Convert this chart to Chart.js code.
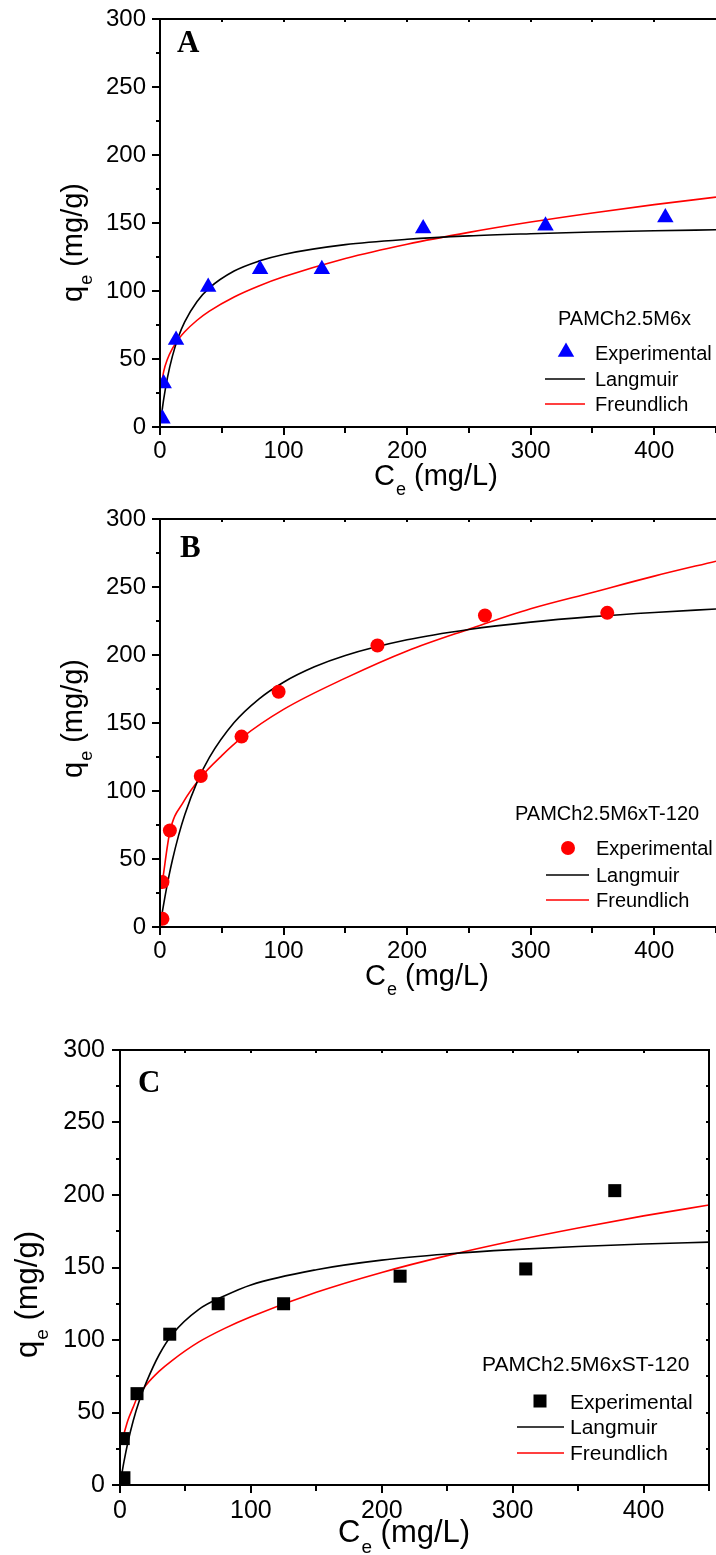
<!DOCTYPE html>
<html>
<head>
<meta charset="utf-8">
<title>Adsorption isotherms</title>
<script src="https://cdn.jsdelivr.net/npm/chart.js@4.4.1/dist/chart.umd.min.js"></script>
<style>
  html, body { margin: 0; padding: 0; background: #fff; }
  body { width: 716px; height: 1555px; position: relative; overflow: hidden; }
  canvas { position: absolute; left: 0; }
</style>
</head>
<body>
<canvas id="chartA"></canvas>
<canvas id="chartB"></canvas>
<canvas id="chartC"></canvas>
<script>
// PAMCh2.5M6x
const expA_x = [2, 3, 13, 39, 81, 131, 213, 312, 409];
const expA_y = [6, 32, 64, 103, 116, 116, 146, 148, 154];
const langA_x = [1.2, 3, 6, 10, 15, 20, 30, 40, 60, 80, 100, 150, 200, 250, 300, 350, 400, 450];
const langA_y = [8.9, 20.5, 36.1, 51.9, 66.5, 77.3, 92.3, 102.3, 114.7, 122.0, 126.9, 134.1, 138.0, 140.5, 142.1, 143.4, 144.3, 145.0];
const freuA_x = [1, 3, 6, 10, 15, 20, 30, 40, 60, 80, 100, 150, 200, 250, 300, 350, 400, 450];
const freuA_y = [30, 40.9, 49.8, 57.6, 64.6, 70.0, 78.5, 85.2, 95.6, 103.7, 110.4, 123.9, 134.4, 143.1, 150.7, 157.4, 163.5, 169.0];

// PAMCh2.5M6xT-120
const expB_x = [2, 2, 8, 33, 66, 96, 176, 263, 362];
const expB_y = [6, 33, 71, 111, 140, 173, 207, 229, 231];
const langB_x = [0.8, 2, 4, 7, 10, 15, 20, 30, 40, 60, 80, 100, 125, 150, 200, 250, 300, 350, 400, 450];
const langB_y = [4.8, 11.6, 22.2, 36.5, 49.1, 67.2, 82.4, 106.5, 124.7, 150.3, 167.6, 180.0, 191.3, 199.7, 211.2, 218.8, 224.2, 228.2, 231.3, 233.8];
const freuB_x = [1.9, 8, 19, 33, 50, 66, 100, 150, 200, 250, 300, 350, 400, 450];
const freuB_y = [33, 70, 92, 110, 126, 139, 160, 183, 203, 219, 234, 246, 258, 269];

// PAMCh2.5M6xST-120
const expC_x = [3, 2.5, 13, 38, 75, 125, 214, 310, 378];
const expC_y = [5, 32, 63, 104, 125, 125, 144, 149, 203];
const langC_x = [1, 3, 6, 10, 15, 20, 30, 40, 60, 80, 100, 150, 200, 250, 300, 350, 400, 450];
const langC_y = [5.6, 15.9, 29.3, 44.0, 58.8, 70.6, 90.0, 104.0, 121.0, 130.5, 138.0, 148.5, 155.1, 159.3, 162.3, 164.5, 166.2, 167.5];
const freuC_x = [3, 6, 10, 13, 20, 30, 40, 60, 80, 100, 150, 200, 250, 300, 350, 400, 450];
const freuC_y = [35.2, 44.5, 53.5, 60.0, 69.0, 78.5, 86.0, 98.5, 108.0, 116.0, 132.9, 146.6, 158.2, 168.3, 177.3, 185.6, 193.1];

const SANS = "'Liberation Sans', Arial, sans-serif";
const SERIF = "'Liberation Serif', 'Times New Roman', serif";

const toPoints = (xs, ys) => xs.map((v, i) => ({ x: v, y: ys[i] }));

const panels = [
  {
    id: 'chartA', top: 0, height: 500, letter: 'A', name: 'PAMCh2.5M6x',
    expX: expA_x, expY: expA_y, langX: langA_x, langY: langA_y, freuX: freuA_x, freuY: freuA_y,
    marker: 'triangle', markerRadius: 9.5, markerColor: '#0000ff',
    padTop: 19, padRight: 0, yAxisWidth: 160, xAxisHeight: 73, frameRight: false,
    tickSize: 24, xTickPad: 10, yTickPad: 14,
    titleSize: 29, subSize: 18, subDrop: 10,
    xTitle: { x: 374, y: 485 }, yTitle: { x: 82, y: 302 },
    letterPos: { x: 177, y: 52, size: 31 },
    legend: { size: 20, nameX: 558, nameY: 325, markX: 566, markY: 352, textX: 595, expY: 360,
              lineX0: 545, lineX1: 585, langY: 379, freuY: 404 }
  },
  {
    id: 'chartB', top: 500, height: 500, letter: 'B', name: 'PAMCh2.5M6xT-120',
    expX: expB_x, expY: expB_y, langX: langB_x, langY: langB_y, freuX: freuB_x, freuY: freuB_y,
    marker: 'circle', markerRadius: 7, markerColor: '#ff0000',
    padTop: 19, padRight: 0, yAxisWidth: 160, xAxisHeight: 73, frameRight: false,
    tickSize: 24, xTickPad: 10, yTickPad: 14,
    titleSize: 29, subSize: 18, subDrop: 10,
    xTitle: { x: 365, y: 485 }, yTitle: { x: 82, y: 278 },
    letterPos: { x: 180, y: 57, size: 31 },
    legend: { size: 20, nameX: 515, nameY: 320, markX: 568, markY: 348, textX: 596, expY: 355,
              lineX0: 546, lineX1: 589, langY: 375, freuY: 400 }
  },
  {
    id: 'chartC', top: 1000, height: 555, letter: 'C', name: 'PAMCh2.5M6xST-120',
    expX: expC_x, expY: expC_y, langX: langC_x, langY: langC_y, freuX: freuC_x, freuY: freuC_y,
    marker: 'rect', markerRadius: 9.2, markerColor: '#000000',
    padTop: 50, padRight: 7, yAxisWidth: 120, xAxisHeight: 70, frameRight: true,
    tickSize: 25, xTickPad: 11, yTickPad: 15,
    titleSize: 31, subSize: 19, subDrop: 11,
    xTitle: { x: 338, y: 542 }, yTitle: { x: 37, y: 358 },
    letterPos: { x: 138, y: 92, size: 31 },
    legend: { size: 21, nameX: 482, nameY: 371, markX: 540, markY: 401, textX: 570, expY: 409,
              lineX0: 517, lineX1: 564, langY: 427, freuY: 453 }
  }
];

// draws main text + subscript + rest on the current baseline, starting at (0, 0)
function drawSubText(ctx, main, sub, rest, p) {
  ctx.textBaseline = 'alphabetic';
  ctx.textAlign = 'left';
  ctx.font = p.titleSize + 'px ' + SANS;
  ctx.fillText(main, 0, 0);
  let x = ctx.measureText(main).width;
  ctx.font = p.subSize + 'px ' + SANS;
  ctx.fillText(sub, x + 1, p.subDrop);
  x += ctx.measureText(sub).width + 1;
  ctx.font = p.titleSize + 'px ' + SANS;
  ctx.fillText(rest, x, 0);
}

function drawMarker(ctx, style, x, y, r) {
  ctx.beginPath();
  if (style === 'triangle') {
    ctx.moveTo(x, y - r);
    ctx.lineTo(x + r * Math.sin(2 * Math.PI / 3), y - r * Math.cos(2 * Math.PI / 3));
    ctx.lineTo(x + r * Math.sin(4 * Math.PI / 3), y - r * Math.cos(4 * Math.PI / 3));
    ctx.closePath();
  } else if (style === 'circle') {
    ctx.arc(x, y, r, 0, Math.PI * 2);
  } else {
    const s = r * Math.SQRT1_2;
    ctx.rect(x - s, y - s, 2 * s, 2 * s);
  }
  ctx.fill();
}

function makeFrame(p) {
  return {
    id: 'isoFrame',
    afterDatasetsDraw(chart) {
      const { ctx, chartArea: a, scales: { x, y } } = chart;
      ctx.save();
      ctx.strokeStyle = '#000';
      ctx.lineWidth = 2;
      ctx.lineCap = 'square';
      ctx.beginPath();
      ctx.moveTo(a.left, a.bottom);
      ctx.lineTo(a.left, a.top);
      ctx.lineTo(a.right + (p.frameRight ? 0 : 2), a.top);
      if (p.frameRight) ctx.lineTo(a.right, a.bottom);
      ctx.moveTo(a.left, a.bottom);
      ctx.lineTo(a.right + (p.frameRight ? 0 : 2), a.bottom);
      ctx.stroke();

      // major / minor tick marks, outward on the left and bottom, small inward ones on top and right
      ctx.lineCap = 'butt';
      ctx.beginPath();
      for (let v = 0; v <= 300; v += 25) {
        const py = Math.round(y.getPixelForValue(v));
        const len = v % 50 === 0 ? 8 : 4;
        ctx.moveTo(a.left - len, py);
        ctx.lineTo(a.left, py);
        if (p.frameRight && v > 0 && v < 300) {
          ctx.moveTo(a.right, py);
          ctx.lineTo(a.right - 3, py);
        }
      }
      for (let v = 0; v <= 450; v += 50) {
        const px = Math.round(x.getPixelForValue(v));
        const len = v % 100 === 0 ? 8 : 6;
        ctx.moveTo(px, a.bottom);
        ctx.lineTo(px, a.bottom + len);
        if (v > 0 && v < 450) {
          ctx.moveTo(px, a.top);
          ctx.lineTo(px, a.top + 3);
        }
      }
      ctx.stroke();
      ctx.restore();
    },
    afterDraw(chart) {
      const ctx = chart.ctx;
      ctx.save();
      ctx.fillStyle = '#000';

      // panel letter
      ctx.font = 'bold ' + p.letterPos.size + 'px ' + SERIF;
      ctx.textAlign = 'left';
      ctx.textBaseline = 'alphabetic';
      ctx.fillText(p.letter, p.letterPos.x, p.letterPos.y);

      // axis titles
      ctx.save();
      ctx.translate(p.xTitle.x, p.xTitle.y);
      drawSubText(ctx, 'C', 'e', ' (mg/L)', p);
      ctx.restore();
      ctx.save();
      ctx.translate(p.yTitle.x, p.yTitle.y);
      ctx.rotate(-Math.PI / 2);
      drawSubText(ctx, 'q', 'e', ' (mg/g)', p);
      ctx.restore();

      // legend
      const L = p.legend;
      ctx.font = L.size + 'px ' + SANS;
      ctx.textAlign = 'left';
      ctx.textBaseline = 'alphabetic';
      ctx.fillText(p.name, L.nameX, L.nameY);
      ctx.fillStyle = p.markerColor;
      drawMarker(ctx, p.marker, L.markX, L.markY, p.markerRadius);
      ctx.fillStyle = '#000';
      ctx.fillText('Experimental', L.textX, L.expY);
      ctx.lineWidth = 1.6;
      ctx.strokeStyle = '#000';
      ctx.beginPath();
      ctx.moveTo(L.lineX0, L.langY);
      ctx.lineTo(L.lineX1, L.langY);
      ctx.stroke();
      ctx.fillText('Langmuir', L.textX, L.langY + 7);
      ctx.strokeStyle = '#ff0000';
      ctx.beginPath();
      ctx.moveTo(L.lineX0, L.freuY);
      ctx.lineTo(L.lineX1, L.freuY);
      ctx.stroke();
      ctx.fillText('Freundlich', L.textX, L.freuY + 7);
      ctx.restore();
    }
  };
}

function buildPanel(p) {
  const canvas = document.getElementById(p.id);
  canvas.width = 716;
  canvas.height = p.height;
  canvas.style.top = p.top + 'px';
  const tickFont = { family: SANS, size: p.tickSize };
  return new Chart(canvas, {
    type: 'scatter',
    data: {
      datasets: [
        {
          label: 'Experimental',
          data: toPoints(p.expX, p.expY),
          pointStyle: p.marker,
          pointRadius: p.markerRadius,
          backgroundColor: p.markerColor,
          borderColor: p.markerColor,
          borderWidth: 0,
          showLine: false,
          clip: { left: 0, bottom: 0, top: false, right: false }
        },
        {
          label: 'Langmuir',
          data: toPoints(p.langX, p.langY),
          showLine: true,
          borderColor: '#000000',
          borderWidth: 1.6,
          pointRadius: 0,
          cubicInterpolationMode: 'monotone',
          fill: false
        },
        {
          label: 'Freundlich',
          data: toPoints(p.freuX, p.freuY),
          showLine: true,
          borderColor: '#ff0000',
          borderWidth: 1.6,
          pointRadius: 0,
          cubicInterpolationMode: 'monotone',
          fill: false
        }
      ]
    },
    options: {
      responsive: false,
      animation: false,
      devicePixelRatio: 1,
      layout: { autoPadding: false, padding: { left: 0, top: p.padTop, right: p.padRight, bottom: 0 } },
      plugins: { legend: { display: false }, tooltip: { enabled: false } },
      scales: {
        x: {
          type: 'linear', min: 0, max: 450,
          grid: { display: false, drawTicks: false },
          border: { display: false },
          ticks: { stepSize: 100, includeBounds: false, padding: p.xTickPad, color: '#000', font: tickFont, maxRotation: 0 },
          afterFit: s => {
            s.height = p.xAxisHeight;
            s.paddingLeft = 0;
            s.paddingRight = 0;
          }
        },
        y: {
          type: 'linear', min: 0, max: 300,
          grid: { display: false, drawTicks: false },
          border: { display: false },
          ticks: { stepSize: 50, padding: p.yTickPad, color: '#000', font: tickFont },
          afterFit: s => {
            s.width = p.yAxisWidth;
            s.paddingTop = 0;
            s.paddingBottom = 0;
          }
        }
      }
    },
    plugins: [makeFrame(p)]
  });
}

panels.forEach(buildPanel);
</script>
</body>
</html>
